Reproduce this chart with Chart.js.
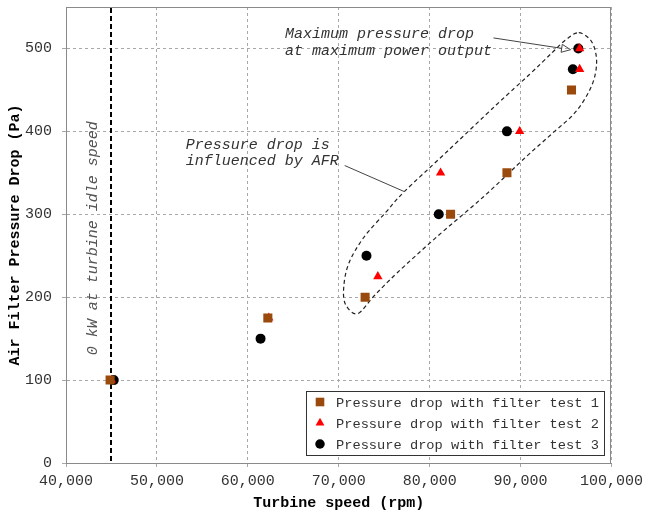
<!DOCTYPE html>
<html>
<head>
<meta charset="utf-8">
<script src="https://cdn.jsdelivr.net/npm/chart.js@4"></script>
<style>
html,body{margin:0;padding:0;background:#fff;}
canvas{display:block;}
</style>
</head>
<body>
<canvas id="c" width="648" height="513"></canvas>
<script>
// ---- data ----
const seriesLabels = [
  'Pressure drop with filter test 1',
  'Pressure drop with filter test 2',
  'Pressure drop with filter test 3'
];
const test1Speed = [44850, 62200, 72900, 82300, 88500, 95600];
const test1Drop  = [100, 175, 200, 300, 350, 450];
const test2Speed = [45000, 62300, 74300, 81200, 89900, 96500, 96500];
const test2Drop  = [100, 175, 225, 350, 400, 475, 500];
const test3Speed = [45250, 61400, 73050, 81000, 88500, 95750, 96350];
const test3Drop  = [100, 150, 250, 300, 400, 475, 500];
const xTickStep = 10000;
const yTickStep = 100;
const idleSpeed = 45000;
const idleLabel = '0 kW at turbine idle speed';
const maxNoteLines = ['Maximum pressure drop', 'at maximum power output'];
const afrNoteLines = ['Pressure drop is', 'influenced by AFR'];

// ---- annotation anchors (in data units) ----
const MONO = '"Liberation Mono", "Courier New", "DejaVu Sans Mono", monospace';
const anno = {
  idleText: {x: 42950, y: 271},
  maxText: {x: 64080, y: [517, 497]},
  maxArrow: {from: [87020, 512.7], to: [95500, 498.5]},
  afrText: {x: 53170, y: [384, 364]},
  afrLine: {from: [70650, 358.8], to: [77200, 327.4]},
  // closed outline of the AFR region (speed, drop)
  outlineSpeed: [96400, 97818, 98364, 97818, 96073, 93564, 90618, 85927, 80800, 76436, 73927, 72073,
                 70764, 70545, 71091, 72727, 75236, 77200, 81891, 87345, 90945, 93455, 94982],
  outlineDrop:  [519, 508.1, 484, 455, 423.7, 398.3, 369.4, 321.2, 272.9, 229.5, 202, 180.1,
                 190.9, 211.4, 240.4, 271.7, 303.1, 327.2, 375.4, 432.1, 468.3, 494.8, 510.5]
};

function fmt(v){ return String(v).replace(/\B(?=(\d{3})+(?!\d))/g, ','); }
function pts(xs, ys){ return xs.map((x,i)=>({x:x, y:ys[i]})); }

const overlay = {
  id: 'overlay',
  beforeDatasetsDraw(chart){
    const ctx = chart.ctx, a = chart.chartArea;
    const xs = chart.scales.x, ys = chart.scales.y;
    ctx.save();
    // frame
    ctx.strokeStyle = '#8a8a8a'; ctx.lineWidth = 1; ctx.setLineDash([]);
    ctx.strokeRect(Math.round(a.left)+0.5, Math.round(a.top)+0.5, Math.round(a.right-a.left)-1, Math.round(a.bottom-a.top));
    // idle line
    const ix = Math.round(xs.getPixelForValue(idleSpeed));
    ctx.strokeStyle = '#000'; ctx.lineWidth = 2; ctx.setLineDash([5,3]);
    ctx.beginPath(); ctx.moveTo(ix, a.top+1); ctx.lineTo(ix, a.bottom); ctx.stroke();
    ctx.setLineDash([]);
    // idle text
    ctx.save();
    ctx.translate(xs.getPixelForValue(anno.idleText.x), ys.getPixelForValue(anno.idleText.y));
    ctx.rotate(-Math.PI/2);
    ctx.font = 'italic 15px ' + MONO;
    ctx.fillStyle = '#555'; ctx.textAlign = 'center'; ctx.textBaseline = 'middle';
    ctx.fillText(idleLabel, 0, 0);
    ctx.restore();
    // notes
    ctx.font = 'italic 15px ' + MONO;
    ctx.fillStyle = '#333'; ctx.textAlign = 'left'; ctx.textBaseline = 'middle';
    maxNoteLines.forEach((t,i)=>ctx.fillText(t, xs.getPixelForValue(anno.maxText.x), ys.getPixelForValue(anno.maxText.y[i])));
    afrNoteLines.forEach((t,i)=>ctx.fillText(t, xs.getPixelForValue(anno.afrText.x), ys.getPixelForValue(anno.afrText.y[i])));
    // afr leader line
    ctx.strokeStyle = '#444'; ctx.lineWidth = 1;
    ctx.beginPath();
    ctx.moveTo(xs.getPixelForValue(anno.afrLine.from[0]), ys.getPixelForValue(anno.afrLine.from[1]));
    ctx.lineTo(xs.getPixelForValue(anno.afrLine.to[0]), ys.getPixelForValue(anno.afrLine.to[1]));
    ctx.stroke();
    // arrow
    const ax0 = xs.getPixelForValue(anno.maxArrow.from[0]), ay0 = ys.getPixelForValue(anno.maxArrow.from[1]);
    const ax1 = xs.getPixelForValue(anno.maxArrow.to[0]), ay1 = ys.getPixelForValue(anno.maxArrow.to[1]);
    const L = Math.hypot(ax1-ax0, ay1-ay0), ux = (ax1-ax0)/L, uy = (ay1-ay0)/L;
    const bx = ax1 - ux*9, by = ay1 - uy*9;
    ctx.beginPath(); ctx.moveTo(ax0, ay0); ctx.lineTo(bx, by); ctx.stroke();
    ctx.beginPath();
    ctx.moveTo(ax1, ay1);
    ctx.lineTo(bx - uy*4, by + ux*4);
    ctx.lineTo(bx + uy*4, by - ux*4);
    ctx.closePath(); ctx.stroke();
    // outline (closed Catmull-Rom spline)
    const P = anno.outlineSpeed.map((s,i)=>[xs.getPixelForValue(s), ys.getPixelForValue(anno.outlineDrop[i])]);
    const n = P.length;
    ctx.strokeStyle = '#222'; ctx.lineWidth = 1.2; ctx.setLineDash([4,3]);
    ctx.beginPath();
    ctx.moveTo(P[0][0], P[0][1]);
    for (let i = 0; i < n; i++) {
      const p0 = P[(i-1+n)%n], p1 = P[i], p2 = P[(i+1)%n], p3 = P[(i+2)%n];
      ctx.bezierCurveTo(p1[0]+(p2[0]-p0[0])/6, p1[1]+(p2[1]-p0[1])/6,
                        p2[0]-(p3[0]-p1[0])/6, p2[1]-(p3[1]-p1[1])/6, p2[0], p2[1]);
    }
    ctx.closePath(); ctx.stroke();
    ctx.restore();
  },
  afterDraw(chart){
    const ctx = chart.ctx, a = chart.chartArea;
    ctx.save();
    ctx.font = '13.7px ' + MONO;
    const tw = Math.max(...chart.data.datasets.map(d=>ctx.measureText(d.label).width));
    const w = Math.round(30 + tw + 5), rowH = 21, h = 64;
    const x0 = Math.round(a.right - 7 - w), y0 = Math.round(a.bottom - 8 - h);
    ctx.fillStyle = '#fff'; ctx.fillRect(x0, y0, w, h);
    ctx.strokeStyle = '#333'; ctx.lineWidth = 1; ctx.setLineDash([]);
    ctx.strokeRect(x0+0.5, y0+0.5, w, h);
    chart.data.datasets.forEach((d,i)=>{
      const cy = y0 + 11 + i*rowH;
      ctx.fillStyle = d.backgroundColor; ctx.strokeStyle = d.borderColor; ctx.lineWidth = 0.01;
      Chart.helpers.drawPoint(ctx, {pointStyle: d.pointStyle, radius: d.pointRadius*0.95, borderWidth: 0}, x0+14, cy);
      ctx.fillStyle = '#333'; ctx.textAlign = 'left'; ctx.textBaseline = 'middle';
      ctx.fillText(d.label, x0 + 30, cy + 1);
    });
    ctx.restore();
  }
};

const datasets = [
  {label: seriesLabels[0], data: pts(test1Speed, test1Drop), pointStyle: 'rect', pointRadius: 6.4,
   backgroundColor: '#9a4a0c', borderColor: '#9a4a0c', borderWidth: 0},
  {label: seriesLabels[1], data: pts(test2Speed, test2Drop), pointStyle: 'triangle', pointRadius: 5.4,
   backgroundColor: '#ff0000', borderColor: '#ff0000', borderWidth: 0},
  {label: seriesLabels[2], data: pts(test3Speed, test3Drop), pointStyle: 'circle', pointRadius: 5,
   backgroundColor: '#000', borderColor: '#000', borderWidth: 0}
];

const gridColor = '#a8a8a8';
new Chart(document.getElementById('c'), {
  type: 'scatter',
  data: {datasets},
  options: {
    responsive: false,
    animation: false,
    layout: {padding: {top: 7, right: 32, left: 0, bottom: 0}},
    plugins: {legend: {display: false}, tooltip: {enabled: false}},
    scales: {
      x: {
        type: 'linear', position: 'bottom', min: 40000, max: 100000,
        afterFit(s){ s.height = 50; },
        ticks: {stepSize: xTickStep, maxRotation: 0, padding: 5, color: '#333',
                font: {family: MONO, size: 15}, callback: v => fmt(v)},
        grid: {color: gridColor, tickLength: 4, tickColor: gridColor},
        border: {color: '#8a8a8a', dash: [3,3]},
        title: {display: true, text: 'Turbine speed (rpm)', color: '#000',
                font: {family: MONO, size: 15, weight: 'bold'}, padding: {top: 0, bottom: 1}}
      },
      y: {
        type: 'linear', min: 0, max: 550,
        afterFit(s){ s.width = 66; s.paddingTop = 0; s.paddingBottom = 0; },
        afterBuildTicks(s){ s.ticks = s.ticks.filter(t => t.value <= 500); },
        ticks: {stepSize: yTickStep, includeBounds: false, padding: 10, color: '#333',
                font: {family: MONO, size: 15}},
        grid: {color: gridColor, tickLength: 4, tickColor: gridColor},
        border: {color: '#8a8a8a', dash: [3,3]},
        title: {display: true, text: 'Air Filter Pressure Drop (Pa)', color: '#000',
                font: {family: MONO, size: 15, weight: 'bold'}, padding: {top: 6, bottom: 0}}
      }
    }
  },
  plugins: [overlay]
});
</script>
</body>
</html>
